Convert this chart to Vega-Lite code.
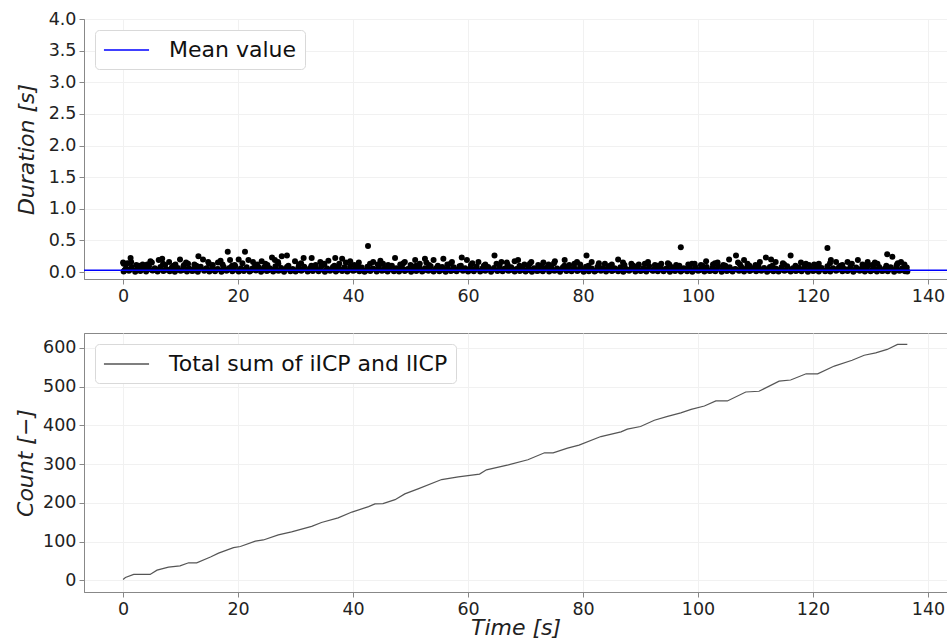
{
"$schema": "https://vega.github.io/schema/vega-lite/v6.json",
"background": "white",
"padding": {"left": 14, "top": 9, "right": 2, "bottom": 2},
"spacing": 27,
"config": {
 "font": "DejaVu Sans",
 "view": {"stroke": "#888888", "strokeWidth": 1},
 "axis": {"labelFont": "DejaVu Sans", "labelFontSize": 17.5, "labelColor": "#222222", "labelOverlap": false, "titleFont": "DejaVu Sans", "titleFontSize": 22, "titleFontStyle": "italic", "titleFontWeight": "normal", "titleColor": "#222222", "domainColor": "#888888", "tickColor": "#888888", "tickSize": 5, "labelPadding": 3, "gridColor": "#f1f1f1", "gridWidth": 1},
 "legend": {"orient": "top-left", "offset": 11, "padding": 8, "strokeColor": "#d9d9d9", "cornerRadius": 4, "fillColor": "white", "symbolType": "M-2.05,0H2.05", "symbolSize": 484, "symbolOffset": 11.5, "symbolStrokeWidth": 1.5, "labelFont": "DejaVu Sans", "labelFontSize": 22, "labelColor": "#111111", "labelOffset": 30.5, "labelLimit": 800, "title": null}
},
"resolve": {"scale": {"color": "independent"}, "legend": {"color": "independent"}},
"datasets": {
"pts": [
{"t":0.1,"d":0.01},{"t":1.0,"d":0.02},{"t":2.1,"d":0.005},{"t":3.0,"d":0.015},{"t":4.0,"d":0.01},{"t":5.1,"d":0.025},{"t":6.0,"d":0.008},{"t":7.0,"d":0.018},{"t":8.1,"d":0.012},{"t":9.0,"d":0.004},{"t":10.0,"d":0.02},{"t":11.1,"d":0.01},{"t":12.0,"d":0.015},{"t":13.0,"d":0.006},{"t":14.1,"d":0.022},{"t":15.0,"d":0.01},{"t":16.0,"d":0.014},{"t":17.1,"d":0.005},{"t":18.0,"d":0.02},{"t":19.0,"d":0.012},{"t":20.1,"d":0.008},{"t":21.0,"d":0.018},{"t":22.0,"d":0.01},{"t":23.1,"d":0.024},{"t":24.0,"d":0.006},{"t":25.0,"d":0.015},{"t":26.1,"d":0.01},{"t":27.0,"d":0.02},{"t":28.0,"d":0.004},{"t":29.1,"d":0.014},{"t":30.0,"d":0.01},{"t":31.0,"d":0.022},{"t":32.1,"d":0.008},{"t":33.0,"d":0.016},{"t":34.0,"d":0.011},{"t":35.1,"d":0.005},{"t":36.0,"d":0.02},{"t":37.0,"d":0.01},{"t":38.1,"d":0.015},{"t":39.0,"d":0.007},{"t":40.0,"d":0.019},{"t":41.1,"d":0.012},{"t":42.0,"d":0.004},{"t":43.0,"d":0.016},{"t":44.1,"d":0.01},{"t":45.0,"d":0.022},{"t":46.0,"d":0.008},{"t":47.1,"d":0.014},{"t":48.0,"d":0.01},{"t":49.0,"d":0.018},{"t":50.1,"d":0.006},{"t":51.0,"d":0.015},{"t":52.0,"d":0.01},{"t":53.1,"d":0.021},{"t":54.0,"d":0.009},{"t":55.0,"d":0.013},{"t":56.1,"d":0.005},{"t":57.0,"d":0.017},{"t":58.0,"d":0.011},{"t":59.1,"d":0.02},{"t":60.0,"d":0.007},{"t":61.0,"d":0.014},{"t":62.1,"d":0.01},{"t":63.0,"d":0.019},{"t":64.0,"d":0.005},{"t":65.1,"d":0.015},{"t":66.0,"d":0.012},{"t":67.0,"d":0.022},{"t":68.1,"d":0.008},{"t":69.0,"d":0.016},{"t":70.0,"d":0.01},{"t":71.1,"d":0.004},{"t":72.0,"d":0.018},{"t":73.0,"d":0.012},{"t":74.1,"d":0.009},{"t":75.0,"d":0.02},{"t":76.0,"d":0.006},{"t":77.1,"d":0.015},{"t":78.0,"d":0.011},{"t":79.0,"d":0.017},{"t":80.1,"d":0.005},{"t":81.0,"d":0.014},{"t":82.0,"d":0.01},{"t":83.1,"d":0.021},{"t":84.0,"d":0.008},{"t":85.0,"d":0.016},{"t":86.1,"d":0.012},{"t":87.0,"d":0.004},{"t":88.0,"d":0.019},{"t":89.1,"d":0.01},{"t":90.0,"d":0.015},{"t":91.0,"d":0.007},{"t":92.1,"d":0.02},{"t":93.0,"d":0.011},{"t":94.0,"d":0.014},{"t":95.1,"d":0.006},{"t":96.0,"d":0.018},{"t":97.0,"d":0.01},{"t":98.1,"d":0.013},{"t":99.0,"d":0.005},{"t":100.0,"d":0.02},{"t":101.1,"d":0.009},{"t":102.0,"d":0.016},{"t":103.0,"d":0.012},{"t":104.1,"d":0.004},{"t":105.0,"d":0.018},{"t":106.0,"d":0.01},{"t":107.1,"d":0.022},{"t":108.0,"d":0.007},{"t":109.0,"d":0.015},{"t":110.1,"d":0.011},{"t":111.0,"d":0.019},{"t":112.0,"d":0.006},{"t":113.1,"d":0.014},{"t":114.0,"d":0.01},{"t":115.0,"d":0.02},{"t":116.1,"d":0.008},{"t":117.0,"d":0.016},{"t":118.0,"d":0.012},{"t":119.1,"d":0.005},{"t":120.0,"d":0.018},{"t":121.0,"d":0.01},{"t":122.1,"d":0.014},{"t":123.0,"d":0.007},{"t":124.0,"d":0.021},{"t":125.1,"d":0.011},{"t":126.0,"d":0.015},{"t":127.0,"d":0.004},{"t":128.1,"d":0.019},{"t":129.0,"d":0.01},{"t":130.0,"d":0.013},{"t":131.1,"d":0.008},{"t":132.0,"d":0.017},{"t":133.0,"d":0.011},{"t":134.1,"d":0.005},{"t":135.0,"d":0.02},{"t":136.0,"d":0.012},{"t":136.4,"d":0.008},
{"t":0.5,"d":0.06},{"t":1.5,"d":0.08},{"t":2.5,"d":0.05},{"t":3.5,"d":0.07},{"t":4.5,"d":0.09},{"t":5.5,"d":0.06},{"t":6.5,"d":0.08},{"t":7.5,"d":0.05},{"t":8.5,"d":0.075},{"t":9.5,"d":0.065},{"t":10.5,"d":0.09},{"t":11.5,"d":0.055},{"t":12.5,"d":0.07},{"t":13.5,"d":0.085},{"t":14.5,"d":0.06},{"t":15.5,"d":0.075},{"t":16.5,"d":0.05},{"t":17.5,"d":0.08},{"t":18.5,"d":0.065},{"t":19.5,"d":0.09},{"t":20.5,"d":0.06},{"t":21.5,"d":0.075},{"t":22.5,"d":0.055},{"t":23.5,"d":0.085},{"t":24.5,"d":0.07},{"t":25.5,"d":0.06},{"t":26.5,"d":0.09},{"t":27.5,"d":0.065},{"t":28.5,"d":0.08},{"t":29.5,"d":0.05},{"t":30.5,"d":0.075},{"t":31.5,"d":0.085},{"t":32.5,"d":0.06},{"t":33.5,"d":0.07},{"t":34.5,"d":0.09},{"t":35.5,"d":0.055},{"t":36.5,"d":0.08},{"t":37.5,"d":0.065},{"t":38.5,"d":0.075},{"t":39.5,"d":0.09},{"t":40.5,"d":0.06},{"t":41.5,"d":0.07},{"t":42.5,"d":0.085},{"t":43.5,"d":0.055},{"t":44.5,"d":0.08},{"t":45.5,"d":0.065},{"t":46.5,"d":0.09},{"t":47.5,"d":0.06},{"t":48.5,"d":0.075},{"t":49.5,"d":0.05},{"t":50.5,"d":0.085},{"t":51.5,"d":0.07},{"t":52.5,"d":0.06},{"t":53.5,"d":0.09},{"t":54.5,"d":0.065},{"t":55.5,"d":0.08},{"t":56.5,"d":0.055},{"t":57.5,"d":0.075},{"t":58.5,"d":0.09},{"t":59.5,"d":0.06},{"t":60.5,"d":0.07},{"t":61.5,"d":0.085},{"t":62.5,"d":0.055},{"t":63.5,"d":0.08},{"t":64.5,"d":0.065},{"t":65.5,"d":0.09},{"t":66.5,"d":0.06},{"t":67.5,"d":0.075},{"t":68.5,"d":0.05},{"t":69.5,"d":0.085},{"t":70.5,"d":0.07},{"t":71.5,"d":0.06},{"t":72.5,"d":0.09},{"t":73.5,"d":0.065},{"t":74.5,"d":0.08},{"t":75.5,"d":0.055},{"t":76.5,"d":0.075},{"t":77.5,"d":0.09},{"t":78.5,"d":0.06},{"t":79.5,"d":0.07},{"t":80.5,"d":0.085},{"t":81.5,"d":0.055},{"t":82.5,"d":0.08},{"t":83.5,"d":0.065},{"t":84.5,"d":0.09},{"t":85.5,"d":0.06},{"t":86.5,"d":0.075},{"t":87.5,"d":0.05},{"t":88.5,"d":0.085},{"t":89.5,"d":0.07},{"t":90.5,"d":0.06},{"t":91.5,"d":0.09},{"t":92.5,"d":0.065},{"t":93.5,"d":0.08},{"t":94.5,"d":0.055},{"t":95.5,"d":0.075},{"t":96.5,"d":0.09},{"t":97.5,"d":0.06},{"t":98.5,"d":0.07},{"t":99.5,"d":0.085},{"t":100.5,"d":0.055},{"t":101.5,"d":0.08},{"t":102.5,"d":0.065},{"t":103.5,"d":0.09},{"t":104.5,"d":0.06},{"t":105.5,"d":0.075},{"t":106.5,"d":0.05},{"t":107.5,"d":0.085},{"t":108.5,"d":0.07},{"t":109.5,"d":0.06},{"t":110.5,"d":0.09},{"t":111.5,"d":0.065},{"t":112.5,"d":0.08},{"t":113.5,"d":0.055},{"t":114.5,"d":0.075},{"t":115.5,"d":0.09},{"t":116.5,"d":0.06},{"t":117.5,"d":0.07},{"t":118.5,"d":0.085},{"t":119.5,"d":0.055},{"t":120.5,"d":0.08},{"t":121.5,"d":0.065},{"t":122.5,"d":0.09},{"t":123.5,"d":0.06},{"t":124.5,"d":0.075},{"t":125.5,"d":0.05},{"t":126.5,"d":0.085},{"t":127.5,"d":0.07},{"t":128.5,"d":0.06},{"t":129.5,"d":0.09},{"t":130.5,"d":0.065},{"t":131.5,"d":0.08},{"t":132.5,"d":0.055},{"t":133.5,"d":0.075},{"t":134.5,"d":0.09},{"t":135.5,"d":0.06},{"t":136.3,"d":0.07},
{"t":0.25,"d":0.03},{"t":1.25,"d":0.04},{"t":2.25,"d":0.025},{"t":3.25,"d":0.045},{"t":4.25,"d":0.035},{"t":5.25,"d":0.03},{"t":6.25,"d":0.04},{"t":7.25,"d":0.028},{"t":8.25,"d":0.042},{"t":9.25,"d":0.033},{"t":10.25,"d":0.03},{"t":11.25,"d":0.04},{"t":12.25,"d":0.025},{"t":13.25,"d":0.045},{"t":14.25,"d":0.035},{"t":15.25,"d":0.03},{"t":16.25,"d":0.04},{"t":17.25,"d":0.028},{"t":18.25,"d":0.042},{"t":19.25,"d":0.033},{"t":20.25,"d":0.03},{"t":21.25,"d":0.04},{"t":22.25,"d":0.025},{"t":23.25,"d":0.045},{"t":24.25,"d":0.035},{"t":25.25,"d":0.03},{"t":26.25,"d":0.04},{"t":27.25,"d":0.028},{"t":28.25,"d":0.042},{"t":29.25,"d":0.033},{"t":30.25,"d":0.03},{"t":31.25,"d":0.04},{"t":32.25,"d":0.025},{"t":33.25,"d":0.045},{"t":34.25,"d":0.035},{"t":35.25,"d":0.03},{"t":36.25,"d":0.04},{"t":37.25,"d":0.028},{"t":38.25,"d":0.042},{"t":39.25,"d":0.033},{"t":40.25,"d":0.03},{"t":41.25,"d":0.04},{"t":42.25,"d":0.025},{"t":43.25,"d":0.045},{"t":44.25,"d":0.035},{"t":45.25,"d":0.03},{"t":46.25,"d":0.04},{"t":47.25,"d":0.028},{"t":48.25,"d":0.042},{"t":49.25,"d":0.033},{"t":50.25,"d":0.03},{"t":51.25,"d":0.04},{"t":52.25,"d":0.025},{"t":53.25,"d":0.045},{"t":54.25,"d":0.035},{"t":55.25,"d":0.03},{"t":56.25,"d":0.04},{"t":57.25,"d":0.028},{"t":58.25,"d":0.042},{"t":59.25,"d":0.033},{"t":60.25,"d":0.03},{"t":61.25,"d":0.04},{"t":62.25,"d":0.025},{"t":63.25,"d":0.045},{"t":64.25,"d":0.035},{"t":65.25,"d":0.03},{"t":66.25,"d":0.04},{"t":67.25,"d":0.028},{"t":68.25,"d":0.042},{"t":69.25,"d":0.033},{"t":70.25,"d":0.03},{"t":71.25,"d":0.04},{"t":72.25,"d":0.025},{"t":73.25,"d":0.045},{"t":74.25,"d":0.035},{"t":75.25,"d":0.03},{"t":76.25,"d":0.04},{"t":77.25,"d":0.028},{"t":78.25,"d":0.042},{"t":79.25,"d":0.033},{"t":80.25,"d":0.03},{"t":81.25,"d":0.04},{"t":82.25,"d":0.025},{"t":83.25,"d":0.045},{"t":84.25,"d":0.035},{"t":85.25,"d":0.03},{"t":86.25,"d":0.04},{"t":87.25,"d":0.028},{"t":88.25,"d":0.042},{"t":89.25,"d":0.033},{"t":90.25,"d":0.03},{"t":91.25,"d":0.04},{"t":92.25,"d":0.025},{"t":93.25,"d":0.045},{"t":94.25,"d":0.035},{"t":95.25,"d":0.03},{"t":96.25,"d":0.04},{"t":97.25,"d":0.028},{"t":98.25,"d":0.042},{"t":99.25,"d":0.033},{"t":100.25,"d":0.03},{"t":101.25,"d":0.04},{"t":102.25,"d":0.025},{"t":103.25,"d":0.045},{"t":104.25,"d":0.035},{"t":105.25,"d":0.03},{"t":106.25,"d":0.04},{"t":107.25,"d":0.028},{"t":108.25,"d":0.042},{"t":109.25,"d":0.033},{"t":110.25,"d":0.03},{"t":111.25,"d":0.04},{"t":112.25,"d":0.025},{"t":113.25,"d":0.045},{"t":114.25,"d":0.035},{"t":115.25,"d":0.03},{"t":116.25,"d":0.04},{"t":117.25,"d":0.028},{"t":118.25,"d":0.042},{"t":119.25,"d":0.033},{"t":120.25,"d":0.03},{"t":121.25,"d":0.04},{"t":122.25,"d":0.025},{"t":123.25,"d":0.045},{"t":124.25,"d":0.035},{"t":125.25,"d":0.03},{"t":126.25,"d":0.04},{"t":127.25,"d":0.028},{"t":128.25,"d":0.042},{"t":129.25,"d":0.033},{"t":130.25,"d":0.03},{"t":131.25,"d":0.04},{"t":132.25,"d":0.025},{"t":133.25,"d":0.045},{"t":134.25,"d":0.035},{"t":135.25,"d":0.03},{"t":136.2,"d":0.04},
{"t":0.0,"d":0.15},{"t":0.1,"d":0.13},{"t":1.3,"d":0.22},{"t":1.4,"d":0.16},{"t":3.4,"d":0.12},{"t":5.0,"d":0.15},{"t":6.2,"d":0.19},{"t":6.8,"d":0.21},{"t":8.0,"d":0.16},{"t":9.9,"d":0.2},{"t":11.3,"d":0.13},{"t":13.1,"d":0.25},{"t":13.9,"d":0.2},{"t":14.8,"d":0.16},{"t":16.5,"d":0.15},{"t":18.2,"d":0.32},{"t":18.6,"d":0.19},{"t":20.1,"d":0.2},{"t":21.2,"d":0.32},{"t":21.8,"d":0.19},{"t":22.6,"d":0.16},{"t":24.1,"d":0.17},{"t":25.9,"d":0.23},{"t":26.4,"d":0.19},{"t":27.6,"d":0.25},{"t":28.5,"d":0.26},{"t":29.9,"d":0.17},{"t":31.4,"d":0.22},{"t":32.8,"d":0.22},{"t":34.3,"d":0.16},{"t":35.7,"d":0.18},{"t":36.9,"d":0.22},{"t":38.1,"d":0.21},{"t":39.5,"d":0.17},{"t":41.0,"d":0.15},{"t":42.6,"d":0.41},{"t":43.5,"d":0.16},{"t":45.2,"d":0.13},{"t":47.3,"d":0.22},{"t":49.0,"d":0.16},{"t":50.8,"d":0.19},{"t":52.5,"d":0.21},{"t":54.0,"d":0.19},{"t":55.7,"d":0.21},{"t":57.2,"d":0.16},{"t":58.9,"d":0.23},{"t":59.8,"d":0.19},{"t":61.8,"d":0.16},{"t":64.6,"d":0.26},{"t":65.8,"d":0.16},{"t":68.1,"d":0.17},{"t":68.7,"d":0.19},{"t":71.0,"d":0.16},{"t":73.1,"d":0.15},{"t":75.1,"d":0.17},{"t":76.8,"d":0.19},{"t":78.5,"d":0.13},{"t":80.6,"d":0.26},{"t":81.5,"d":0.16},{"t":83.8,"d":0.13},{"t":86.1,"d":0.2},{"t":88.4,"d":0.13},{"t":91.3,"d":0.16},{"t":93.6,"d":0.13},{"t":97.0,"d":0.39},{"t":99.4,"d":0.13},{"t":101.4,"d":0.17},{"t":103.4,"d":0.15},{"t":105.4,"d":0.2},{"t":106.6,"d":0.26},{"t":108.0,"d":0.19},{"t":108.6,"d":0.13},{"t":111.8,"d":0.23},{"t":112.7,"d":0.2},{"t":113.5,"d":0.16},{"t":116.1,"d":0.26},{"t":117.9,"d":0.15},{"t":121.0,"d":0.13},{"t":122.5,"d":0.38},{"t":123.1,"d":0.19},{"t":124.0,"d":0.16},{"t":126.0,"d":0.16},{"t":127.8,"d":0.19},{"t":129.5,"d":0.16},{"t":131.2,"d":0.13},{"t":132.9,"d":0.28},{"t":133.8,"d":0.24},{"t":135.3,"d":0.16},{"t":135.9,"d":0.12},
{"t":2.3,"d":0.11},{"t":4.2,"d":0.12},{"t":7.3,"d":0.11},{"t":9.1,"d":0.12},{"t":10.6,"d":0.11},{"t":12.4,"d":0.12},{"t":15.6,"d":0.11},{"t":17.3,"d":0.12},{"t":19.4,"d":0.11},{"t":23.3,"d":0.12},{"t":25.1,"d":0.11},{"t":27.0,"d":0.13},{"t":30.6,"d":0.12},{"t":33.5,"d":0.11},{"t":35.0,"d":0.12},{"t":37.6,"d":0.13},{"t":40.2,"d":0.11},{"t":44.3,"d":0.12},{"t":46.1,"d":0.11},{"t":48.2,"d":0.12},{"t":50.0,"d":0.11},{"t":51.6,"d":0.13},{"t":53.2,"d":0.11},{"t":56.4,"d":0.12},{"t":60.5,"d":0.11},{"t":63.0,"d":0.12},{"t":66.9,"d":0.11},{"t":69.8,"d":0.12},{"t":72.2,"d":0.11},{"t":74.0,"d":0.12},{"t":77.6,"d":0.11},{"t":79.5,"d":0.12},{"t":82.7,"d":0.11},{"t":85.0,"d":0.12},{"t":87.2,"d":0.11},{"t":89.7,"d":0.12},{"t":92.5,"d":0.11},{"t":95.0,"d":0.12},{"t":96.2,"d":0.11},{"t":98.3,"d":0.12},{"t":100.5,"d":0.11},{"t":102.6,"d":0.12},{"t":104.4,"d":0.11},{"t":107.3,"d":0.12},{"t":110.0,"d":0.11},{"t":115.0,"d":0.12},{"t":119.3,"d":0.11},{"t":120.2,"d":0.12},{"t":125.1,"d":0.11},{"t":128.6,"d":0.12},{"t":130.3,"d":0.11},{"t":134.6,"d":0.12},
{"t":0.75,"d":0.14},{"t":2.75,"d":0.1},{"t":4.75,"d":0.17},{"t":6.95,"d":0.13},{"t":8.75,"d":0.1},{"t":10.95,"d":0.15},{"t":12.75,"d":0.1},{"t":14.95,"d":0.13},{"t":16.95,"d":0.18},{"t":18.95,"d":0.1},{"t":20.75,"d":0.14},{"t":22.95,"d":0.1},{"t":24.75,"d":0.13},{"t":26.95,"d":0.16},{"t":28.75,"d":0.1},{"t":30.95,"d":0.14},{"t":32.75,"d":0.1},{"t":34.95,"d":0.13},{"t":36.75,"d":0.1},{"t":38.75,"d":0.15},{"t":40.75,"d":0.1},{"t":42.95,"d":0.13},{"t":44.75,"d":0.18},{"t":46.75,"d":0.1},{"t":48.75,"d":0.14},{"t":50.95,"d":0.1},{"t":52.75,"d":0.15},{"t":54.75,"d":0.1},{"t":56.95,"d":0.13},{"t":58.75,"d":0.1},{"t":60.75,"d":0.14},{"t":62.75,"d":0.1},{"t":64.95,"d":0.13},{"t":66.75,"d":0.15},{"t":68.95,"d":0.1},{"t":70.75,"d":0.13},{"t":72.75,"d":0.1},{"t":74.95,"d":0.14},{"t":76.75,"d":0.1},{"t":78.95,"d":0.16},{"t":80.95,"d":0.1},{"t":82.75,"d":0.14},{"t":84.75,"d":0.1},{"t":86.95,"d":0.15},{"t":88.75,"d":0.1},{"t":90.75,"d":0.13},{"t":92.95,"d":0.1},{"t":94.75,"d":0.14},{"t":96.75,"d":0.1},{"t":98.95,"d":0.13},{"t":100.75,"d":0.1},{"t":102.95,"d":0.14},{"t":104.75,"d":0.1},{"t":106.95,"d":0.15},{"t":108.95,"d":0.1},{"t":110.75,"d":0.16},{"t":112.95,"d":0.1},{"t":114.75,"d":0.14},{"t":116.95,"d":0.1},{"t":118.75,"d":0.13},{"t":120.75,"d":0.1},{"t":122.95,"d":0.14},{"t":124.75,"d":0.1},{"t":126.75,"d":0.13},{"t":128.95,"d":0.1},{"t":130.75,"d":0.15},{"t":132.75,"d":0.1},{"t":134.75,"d":0.14}
],
"cum": [
{"t":0,"c":2},{"t":0.4,"c":7},{"t":1.85,"c":15},{"t":4.7,"c":15},{"t":5.9,"c":26},{"t":7.9,"c":34},{"t":9.9,"c":37},{"t":11.4,"c":45},{"t":12.8,"c":45},{"t":15.2,"c":60},{"t":16.6,"c":70},{"t":19.2,"c":84},{"t":20.4,"c":87},{"t":23,"c":101},{"t":24.4,"c":104},{"t":27,"c":117},{"t":29.3,"c":125},{"t":32.8,"c":139},{"t":34.5,"c":149},{"t":37.4,"c":161},{"t":39.8,"c":176},{"t":42.7,"c":190},{"t":43.8,"c":197},{"t":45.2,"c":198},{"t":47.3,"c":208},{"t":49,"c":223},{"t":51.3,"c":236},{"t":55.4,"c":260},{"t":58.3,"c":267},{"t":62,"c":274},{"t":63.2,"c":285},{"t":67,"c":298},{"t":70.4,"c":311},{"t":73.3,"c":329},{"t":74.8,"c":329},{"t":77.3,"c":341},{"t":79.3,"c":349},{"t":83.1,"c":371},{"t":86.6,"c":383},{"t":87.7,"c":390},{"t":90,"c":397},{"t":92.4,"c":413},{"t":94.7,"c":423},{"t":97,"c":432},{"t":98.8,"c":441},{"t":101.1,"c":450},{"t":103.1,"c":463},{"t":105.1,"c":463},{"t":108.3,"c":486},{"t":110.6,"c":488},{"t":114.1,"c":514},{"t":116.1,"c":517},{"t":118.8,"c":533},{"t":120.8,"c":533},{"t":123.7,"c":553},{"t":126.8,"c":568},{"t":128.9,"c":581},{"t":130.9,"c":587},{"t":132.9,"c":596},{"t":134.7,"c":609},{"t":136.4,"c":609}
]
},
"vconcat": [
{
 "width": 863, "height": 260,
 "layer": [
  {
   "data": {"name": "pts"},
   "mark": {"type": "point", "filled": true, "color": "black", "size": 36, "opacity": 1},
   "encoding": {
    "x": {"field": "t", "type": "quantitative", "scale": {"domain": [-6.8, 143.3], "nice": false, "zero": false}, "axis": {"values": [0,20,40,60,80,100,120,140], "tickCount": 20, "title": null, "grid": true}},
    "y": {"field": "d", "type": "quantitative", "scale": {"domain": [-0.11, 4.0], "nice": false, "zero": false}, "axis": {"values": [0,0.5,1,1.5,2,2.5,3,3.5,4], "tickCount": 20, "labelOverlap": false, "format": ".1f", "title": "Duration [s]", "titlePadding": 10, "grid": true}}
   }
  },
  {
   "data": {"values": [{"mean": 0.03, "label": "Mean value"}]},
   "mark": {"type": "rule", "strokeWidth": 1.5},
   "encoding": {
    "y": {"field": "mean", "type": "quantitative"},
    "color": {"field": "label", "type": "nominal", "scale": {"range": ["#0000ff"]}, "legend": {"title": null}}
   }
  }
 ]
},
{
 "width": 863, "height": 259,
 "data": {"name": "cum"},
 "mark": {"type": "line", "strokeWidth": 1.2},
 "encoding": {
  "x": {"field": "t", "type": "quantitative", "scale": {"domain": [-6.8, 143.3], "nice": false, "zero": false}, "axis": {"values": [0,20,40,60,80,100,120,140], "tickCount": 20, "title": "Time [s]", "titlePadding": 0, "grid": true}},
  "y": {"field": "c", "type": "quantitative", "scale": {"domain": [-30.4, 638.4], "nice": false, "zero": false}, "axis": {"values": [0,100,200,300,400,500,600], "tickCount": 20, "title": "Count [−]", "titlePadding": 4.6, "grid": true}},
  "color": {"datum": "Total sum of iICP and lICP", "type": "nominal", "scale": {"range": ["#555555"]}, "legend": {"title": null}}
 }
}
]
}
